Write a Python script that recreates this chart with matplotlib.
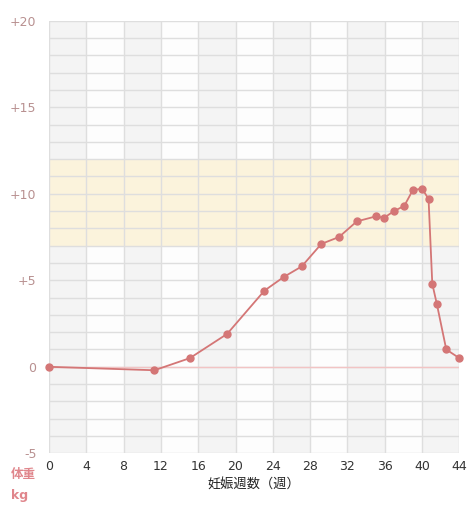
import matplotlib
matplotlib.use("Agg")
import matplotlib.pyplot as plt

weeks = [0, 11.3, 15.1, 19.1, 23.1, 25.2, 27.1, 29.2, 31.1, 33.0, 35.1, 35.9,
         37.0, 38.1, 39.0, 40.0, 40.7, 41.1, 41.6, 42.6, 44.0]
gain = [0, -0.2, 0.5, 1.9, 4.4, 5.2, 5.8, 7.1, 7.5, 8.4, 8.7, 8.6,
        9.0, 9.3, 10.2, 10.3, 9.7, 4.8, 3.6, 1.0, 0.5]

x_ticks = list(range(0, 45, 4))
y_ticks = [20, 15, 10, 5, 0, -5]
y_tick_labels = ["+20", "+15", "+10", "+5", "0", "-5"]
band = (7, 12)

plt.rcParams['font.family'] = ['Noto Sans CJK JP', 'DejaVu Sans']

fig = plt.figure(figsize=(4.75, 5.12), dpi=100)
ax = fig.add_axes([0.1032, 0.1146, 0.967 - 0.1032, 0.9596 - 0.1146])
ax.set_xlim(0, 44)
ax.set_ylim(-5, 20)

# alternating column shading
for i, x0 in enumerate(x_ticks[:-1]):
    ax.axvspan(x0, x0 + 4, color="#f4f4f4" if i % 2 == 0 else "#fdfdfd", lw=0, zorder=0)
ax.axhspan(band[0], band[1], color="#fbf3dc", lw=0, zorder=0.5)

# grid
for yv in range(-5, 21):
    ax.axhline(yv, color="#dedede", lw=1.0, zorder=1)
for xv in x_ticks:
    ax.axvline(xv, color="#dedede", lw=1.0, zorder=1)
ax.axhline(0, color="#f2c4c4", lw=1.0, zorder=1.5)

ax.plot(weeks, gain, color="#d47676", lw=1.3, marker="o", markersize=5,
        markerfacecolor="#d47676", markeredgecolor="#d47676", zorder=3, clip_on=False)

for s in ax.spines.values():
    s.set_visible(False)
ax.set_xticks(x_ticks)
ax.set_xticklabels([str(v) for v in x_ticks], fontsize=9, color="#333333",
                   family="DejaVu Sans")
ax.set_yticks(y_ticks)
ax.set_yticklabels(y_tick_labels, fontsize=9, color="#b89090", family="DejaVu Sans")
ax.tick_params(axis='x', length=0, pad=5)
ax.tick_params(axis='y', length=0, pad=9)
ax.set_xlabel("妊娠週数（週）", fontsize=9.5, color="#222222", labelpad=4)

fig.text(0.022, 0.066, "体重", fontsize=9, color="#e0868c", fontweight="bold")
fig.text(0.023, 0.026, "kg", fontsize=9, color="#e0868c", fontweight="bold",
         family="DejaVu Sans")

fig.savefig("out.png", dpi=100)
